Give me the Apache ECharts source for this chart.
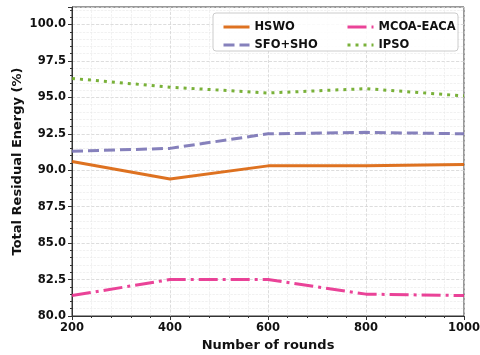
<!DOCTYPE html>
<html>
<head>
<meta charset="utf-8">
<script src="https://cdn.jsdelivr.net/npm/echarts@6/dist/echarts.min.js"></script>
<style>
  html, body { margin: 0; padding: 0; background: #fff; }
  #chart { width: 480px; height: 355px; }
</style>
</head>
<body>
<div id="chart"></div>
<script>
// rounds on the x axis
const rounds = [200, 400, 600, 800, 1000]

// residual energy (%) per method
const hswo = [90.6, 89.4, 90.3, 90.3, 90.4]
const sfoSho = [91.3, 91.5, 92.5, 92.6, 92.5]
const mcoaEaca = [81.4, 82.5, 82.5, 81.5, 81.4]
const ipso = [96.3, 95.7, 95.3, 95.6, 95.1]

const names = ['HSWO', 'SFO+SHO', 'MCOA-EACA', 'IPSO']
const colors = ['#d95f02', '#7570b3', '#e7298a', '#66a61e']
const dashes = ['solid', [11, 5], [19, 5, 3, 5], [3, 5]]

const font = 'DejaVu Sans'
const chart = echarts.init(document.getElementById('chart'))

const mkSeries = (name, vals, i) => ({
  name,
  type: 'line',
  data: rounds.map((r, k) => [r, vals[k]]),
  showSymbol: false,
  symbol: 'none',
  lineStyle: { color: colors[i], width: 3, type: dashes[i], cap: 'butt', opacity: 0.88 },
  itemStyle: { color: colors[i] },
  z: 2
})

const legendText = { fontFamily: font, fontWeight: 'bold', fontSize: 11.5, color: '#111' }
const legendBase = {
  orient: 'vertical', top: 16, itemWidth: 26, itemHeight: 12, itemGap: 6,
  textStyle: legendText, itemStyle: { opacity: 0 }, lineStyle: { width: 3 }, z: 4
}

chart.setOption({
  animation: false,
  backgroundColor: '#fff',
  grid: {
    left: 72, right: 16, top: 7, bottom: 39,
    outerBoundsMode: 'none',
    show: true, borderColor: '#333', borderWidth: 1
  },
  graphic: [{
    type: 'rect', z: 3,
    shape: { x: 213, y: 13, width: 245, height: 38, r: 3 },
    style: { fill: 'rgba(255,255,255,0.85)', stroke: '#ccc', lineWidth: 1 }
  }],
  legend: [
    Object.assign({ data: ['HSWO', 'SFO+SHO'], left: 217 }, legendBase),
    Object.assign({ data: ['MCOA-EACA', 'IPSO'], left: 341 }, legendBase)
  ],
  xAxis: {
    type: 'value', min: 200, max: 1000, interval: 200,
    name: 'Number of rounds', nameLocation: 'middle', nameGap: 23, nameMoveOverlap: false,
    nameTextStyle: { fontFamily: font, fontWeight: 'bold', fontSize: 13, color: '#111' },
    axisLine: { lineStyle: { color: '#333' } },
    axisTick: { length: 4, lineStyle: { color: '#333' } },
    minorTick: { show: true, splitNumber: 5, length: 2, lineStyle: { color: '#333' } },
    axisLabel: {
      fontFamily: font, fontWeight: 'bold', fontSize: 11.5, color: '#111', margin: 6,
      formatter: v => String(v)
    },
    splitLine: { show: true, lineStyle: { color: '#d4d4d4', type: 'dashed', width: 0.8 } },
    minorSplitLine: { show: true, lineStyle: { color: '#e8e8e8', type: 'dashed', width: 0.6 } }
  },
  yAxis: {
    type: 'value', min: 80, max: 101.2, interval: 2.5,
    name: 'Total Residual Energy (%)', nameLocation: 'middle', nameGap: 48, nameMoveOverlap: false,
    nameTextStyle: { fontFamily: font, fontWeight: 'bold', fontSize: 13, color: '#111' },
    axisLine: { show: true, lineStyle: { color: '#333' } },
    axisTick: { show: true, length: 4, lineStyle: { color: '#333' } },
    minorTick: { show: true, splitNumber: 5, length: 2, lineStyle: { color: '#333' } },
    axisLabel: {
      fontFamily: font, fontWeight: 'bold', fontSize: 11.5, color: '#111', margin: 6,
      formatter: v => (Math.abs(v / 2.5 - Math.round(v / 2.5)) < 1e-6 ? v.toFixed(1) : '')
    },
    splitLine: { show: true, lineStyle: { color: '#d4d4d4', type: 'dashed', width: 0.8 } },
    minorSplitLine: { show: true, lineStyle: { color: '#e8e8e8', type: 'dashed', width: 0.6 } }
  },
  series: [
    mkSeries(names[0], hswo, 0),
    mkSeries(names[1], sfoSho, 1),
    mkSeries(names[2], mcoaEaca, 2),
    mkSeries(names[3], ipso, 3)
  ]
})
</script>
</body>
</html>
